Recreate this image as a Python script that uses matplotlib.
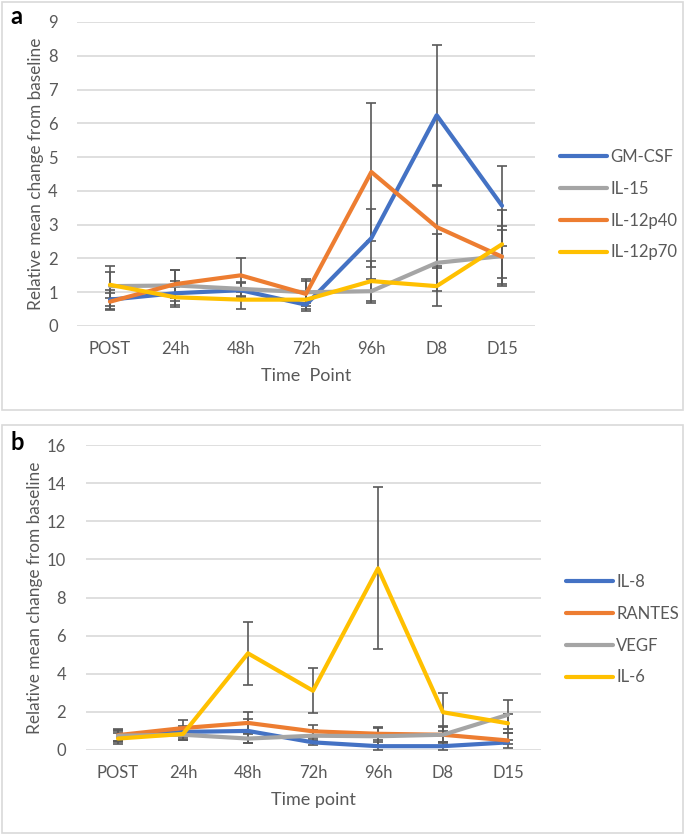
import matplotlib
matplotlib.use('agg')
import matplotlib.pyplot as plt
from matplotlib.patches import Rectangle
import numpy as np

plt.rcParams['font.family'] = ['Lato', 'DejaVu Sans']

time_points = ['POST', '24h', '48h', '72h', '96h', 'D8', 'D15']

# panel a
a_names = ['GM-CSF', 'IL-15', 'IL-12p40', 'IL-12p70']
gmcsf = [0.78, 0.97, 1.06, 0.63, 2.6, 6.24, 3.56]
gmcsf_err = [0.28, 0.35, 0.2, 0.18, 0.86, 2.08, 1.18]
il15 = [1.18, 1.2, 1.1, 1.0, 1.03, 1.87, 2.07]
il15_err = [0.6, 0.45, 0.2, 0.33, 0.36, 0.84, 0.9]
il12p40 = [0.72, 1.24, 1.5, 0.95, 4.56, 2.93, 2.05]
il12p40_err = [0.25, 0.42, 0.5, 0.45, 2.04, 1.22, 0.8]
il12p70 = [1.22, 0.85, 0.78, 0.78, 1.33, 1.18, 2.42]
il12p70_err = [0.38, 0.3, 0.28, 0.2, 0.6, 0.59, 1.0]

# panel b
b_names = ['IL-8', 'RANTES', 'VEGF', 'IL-6']
il8 = [0.7, 0.95, 1.0, 0.4, 0.2, 0.2, 0.4]
il8_err = [0.3, 0.3, 0.65, 0.15, 0.2, 0.2, 0.1]
rantes = [0.78, 1.15, 1.42, 0.98, 0.85, 0.8, 0.5]
rantes_err = [0.3, 0.4, 0.55, 0.35, 0.3, 0.45, 0.4]
vegf = [0.75, 0.8, 0.6, 0.75, 0.72, 0.8, 1.85]
vegf_err = [0.3, 0.3, 0.25, 0.3, 0.5, 0.4, 0.77]
il6 = [0.6, 0.84, 5.07, 3.11, 9.53, 1.98, 1.4]
il6_err = [0.3, 0.3, 1.66, 1.19, 4.25, 1.0, 0.5]

colors = ['#4472C4', '#A5A5A5', '#ED7D31', '#FFC000']
colors_b = ['#4472C4', '#ED7D31', '#A5A5A5', '#FFC000']
text_color = '#595959'
W, H = 685, 835

fig = plt.figure(figsize=(6.85, 8.35), dpi=100)

# panel frames
for y0, y1 in [(2, 410), (425, 833)]:
    fig.patches.append(Rectangle((2 / W, 1 - y1 / H), 681 / W, (y1 - y0) / H,
                                 transform=fig.transFigure, fill=False,
                                 edgecolor='#D9D9D9', linewidth=1.2))


def setup(ax, ylim, yticks, xlabel):
    ax.set_xlim(-0.5, 6.5)
    ax.set_ylim(*ylim)
    ax.set_yticks(yticks)
    ax.set_xticks(range(len(time_points)))
    ax.set_xticklabels(time_points)
    for s in ax.spines.values():
        s.set_visible(False)
    ax.grid(axis='y', color='#D9D9D9', linewidth=1.2)
    ax.set_axisbelow(True)
    ax.tick_params(length=0, labelsize=12, labelcolor=text_color)
    ax.tick_params(axis='y', pad=14)
    ax.tick_params(axis='x', pad=11)
    ax.set_ylabel('Relative mean change from baseline', fontsize=12.4, color=text_color, labelpad=3)
    ax.set_xlabel(xlabel, fontsize=13, color=text_color, labelpad=8)


x = np.arange(len(time_points))

ax1 = fig.add_axes([77.3 / W, 1 - 326 / H, (534.7 - 77.3) / W, (326 - 22) / H])
setup(ax1, (0, 9), range(0, 10), 'Time  Point')
a_series = [(gmcsf, gmcsf_err), (il15, il15_err), (il12p40, il12p40_err), (il12p70, il12p70_err)]
lines_a = []
for (vals, err), c, name in zip(a_series, colors, a_names):
    ln, = ax1.plot(x, vals, color=c, linewidth=3, label=name, solid_capstyle='round', zorder=3)
    ax1.errorbar(x, vals, yerr=err, fmt='none', ecolor='#595959', elinewidth=1.2,
                 capsize=3.5, capthick=1.2, zorder=2)
    lines_a.append(ln)

ax2 = fig.add_axes([85.5 / W, 1 - 750 / H, (540.5 - 85.5) / W, (750 - 445) / H])
setup(ax2, (0, 16), range(0, 17, 2), 'Time point')
b_series = [(il8, il8_err), (rantes, rantes_err), (vegf, vegf_err), (il6, il6_err)]
lines_b = []
for (vals, err), c, name in zip(b_series, colors_b, b_names):
    ln, = ax2.plot(x, vals, color=c, linewidth=3, label=name, solid_capstyle='round', zorder=3)
    ax2.errorbar(x, vals, yerr=err, fmt='none', ecolor='#595959', elinewidth=1.2,
                 capsize=3.5, capthick=1.2, zorder=2)
    lines_b.append(ln)

for lines, names, lx, ly in [(lines_a, a_names, 560, 149), (lines_b, b_names, 566, 574)]:
    leg = fig.legend(lines, names, loc='upper left', bbox_to_anchor=(lx / W, 1 - ly / H),
                     frameon=False, fontsize=12, handlelength=2.8, handletextpad=0.2,
                     labelspacing=0.95, borderpad=0, borderaxespad=0)
    for t in leg.get_texts():
        t.set_color(text_color)

fig.text(10 / W, 1 - 17 / H, 'a', fontsize=17, fontweight='bold', ha='left', va='center')
fig.text(10 / W, 1 - 443 / H, 'b', fontsize=17, fontweight='bold', ha='left', va='center')

fig.savefig('out.png', dpi=100)
